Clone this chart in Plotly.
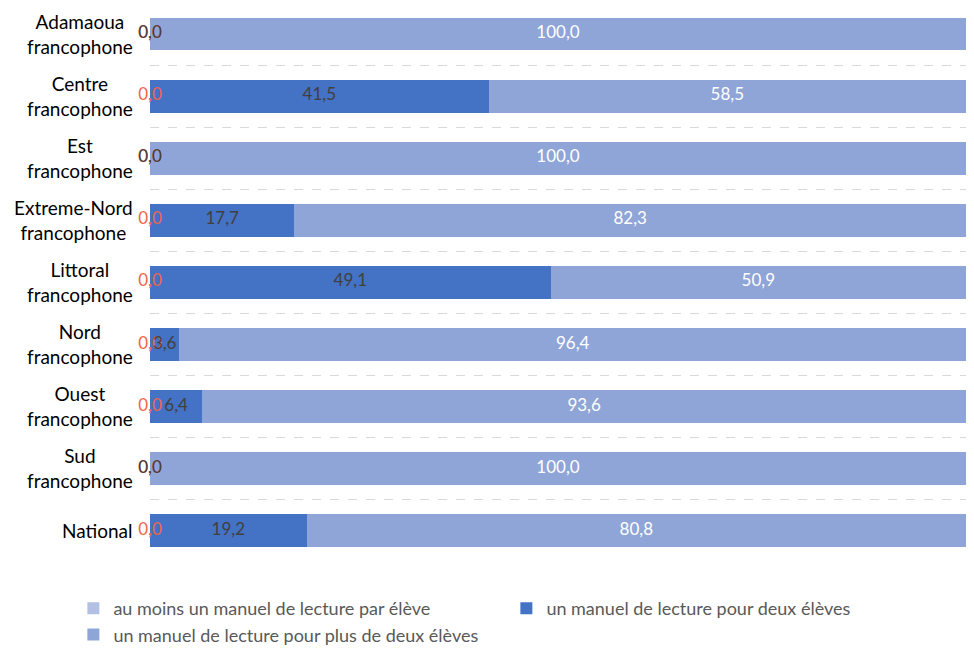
import plotly.graph_objects as go

categories = ["Adamaoua<br>francophone", "Centre<br>francophone", "Est<br>francophone",
              "Extreme-Nord<br>francophone", "Littoral<br>francophone", "Nord<br>francophone",
              "Ouest<br>francophone", "Sud<br>francophone", "National"]
series_names = ["au moins un manuel de lecture par élève",
                "un manuel de lecture pour deux élèves",
                "un manuel de lecture pour plus de deux élèves"]
s1 = [0.0, 0.0, 0.0, 0.0, 0.0, 0.0, 0.0, 0.0, 0.0]
s2 = [0.0, 41.5, 0.0, 17.7, 49.1, 3.6, 6.4, 0.0, 19.2]
s3 = [100.0, 58.5, 100.0, 82.3, 50.9, 96.4, 93.6, 100.0, 80.8]

C1 = "#B4BFE4"
C2 = "#4472C4"
C3 = "#8FA5D8"
RED = "#F0644A"
DARK = "#404040"
FONT = "Lato"

def fmt(v):
    return f"{v:.1f}".replace(".", ",")

fig = go.Figure()
fig.add_bar(y=categories, x=s1, orientation="h", name=series_names[0], marker_color=C1,
            marker_line_width=0)
fig.add_bar(y=categories, x=s2, orientation="h", name=series_names[1], marker_color=C2,
            marker_line_width=0)
fig.add_bar(y=categories, x=s3, orientation="h", name=series_names[2], marker_color=C3,
            marker_line_width=0)

# data labels
fig.add_scatter(y=categories, x=s1, mode="text", text=[fmt(v) for v in s1],
                textfont=dict(color=RED, size=17, family=FONT), showlegend=False,
                hoverinfo="skip", cliponaxis=False)
fig.add_scatter(y=categories, x=[a + b / 2 for a, b in zip(s1, s2)], mode="text",
                text=[fmt(v) for v in s2],
                textfont=dict(color=DARK, size=17, family=FONT), showlegend=False,
                hoverinfo="skip", cliponaxis=False)
fig.add_scatter(y=categories, x=[a + b + c / 2 for a, b, c in zip(s1, s2, s3)], mode="text",
                text=[fmt(v) for v in s3],
                textfont=dict(color="white", size=17, family=FONT), showlegend=False,
                hoverinfo="skip", cliponaxis=False)

# category labels (centered multi-line)
for c in categories:
    fig.add_annotation(x=0, y=c, xref="paper", yref="y", text=c, showarrow=False,
                       xanchor="right", xshift=-15, align="center",
                       font=dict(size=19, color="#000000", family=FONT))

fig.update_layout(
    width=958, height=640,
    barmode="stack", bargap=0.47,
    plot_bgcolor="white", paper_bgcolor="white",
    margin=dict(l=142, r=0, t=0, b=85, autoexpand=False),
    font=dict(family=FONT, size=18, color="#595959"),
    xaxis=dict(range=[0, 100], showgrid=False, zeroline=False, showticklabels=False,
               showline=False, fixedrange=True),
    yaxis=dict(range=[8.524, -0.419], showticklabels=False, tickson="boundaries",
               showgrid=True, gridcolor="#D9D9D9", griddash="dash", gridwidth=1,
               zeroline=False, showline=False, ticks=""),
    legend=dict(orientation="h", x=-0.0939, xanchor="left", y=-0.0486, yanchor="top",
                entrywidth=388, entrywidthmode="pixels", traceorder="normal",
                font=dict(size=18, color="#595959", family=FONT)),
    showlegend=True,
)

fig.write_html("out.html")
